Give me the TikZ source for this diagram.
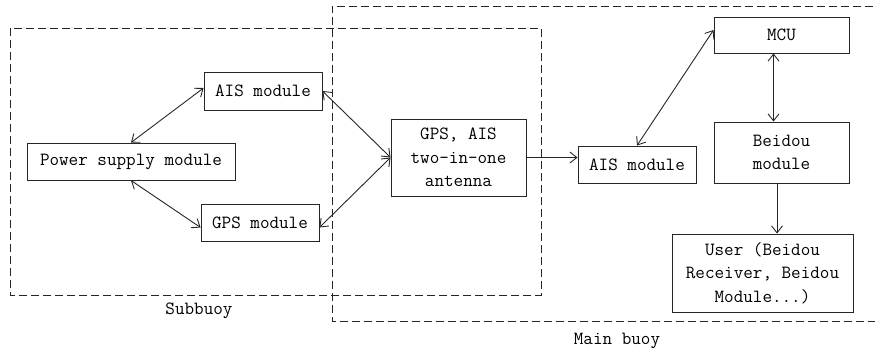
\documentclass[tikz,border=0pt]{standalone}
\usetikzlibrary{arrows.meta,calc}
\begin{document}
\begin{tikzpicture}[x=1pt,y=-1pt,
  box/.style={draw=black!85,line width=0.9pt,inner sep=0pt,align=center,
    font=\ttfamily\fontsize{18.6}{23.5}\selectfont},
  grp/.style={draw=black!85,line width=0.9pt,dash pattern=on 8pt off 4pt},
  lbl/.style={inner sep=0pt,font=\ttfamily\fontsize{18.6}{23.5}\selectfont},
  conn/.style={line width=0.9pt,draw=black!85},
  >={Straight Barb[length=7pt,width=11pt]}]
\useasboundingbox (0,0) rectangle (875,356);
% group frames
\draw[grp] (10,28) rectangle (541,295);
\draw[grp] (885,6) -- (332,6) -- (332,321) -- (885,321);
\node[lbl] (sub) at (199,311) {Subbuoy};
\node[lbl] (mainb) at (617,341) {Main buoy};
% nodes
\node[box,minimum width=208,minimum height=37] (psu) at (131,161.5) {Power supply module};
\node[box,minimum width=118,minimum height=38] (ais1) at (263,91) {AIS module};
\node[box,minimum width=118,minimum height=37] (gps1) at (260,222.5) {GPS module};
\node[box,minimum width=135,minimum height=77] (ant) at (458.5,157.5) {GPS, AIS\\two-in-one\\antenna};
\node[box,minimum width=118,minimum height=37] (ais2) at (637,164.5) {AIS module};
\node[box,minimum width=135,minimum height=36] (mcu) at (781.5,35) {MCU};
\node[box,minimum width=135,minimum height=61] (bd) at (781.5,152.5) {Beidou\\module};
\node[box,minimum width=181,minimum height=78] (user) at (762.5,273) {User (Beidou\\Receiver, Beidou\\Module...)};
% connectors
\draw[conn,<->] (psu.north) -- ([yshift=3pt]ais1.west);
\draw[conn,<->] (psu.south) -- ([yshift=-5pt]gps1.west);
\draw[conn,<->] (ais1.east) -- (ant.west);
\draw[conn,<->] ([yshift=-5pt]gps1.east) -- (ant.west);
\draw[conn,->] (ant.east) -- (ant.east -| ais2.west);
\draw[conn,<->] (ais2.north) -- ([yshift=5pt]mcu.west);
\draw[conn,<->] ([xshift=-8pt]mcu.south) -- ([xshift=-8pt]bd.north);
\draw[conn,->] ([xshift=-4.5pt]bd.south) -- ([xshift=-4.5pt]bd.south |- user.north);
\end{tikzpicture}
\end{document}
